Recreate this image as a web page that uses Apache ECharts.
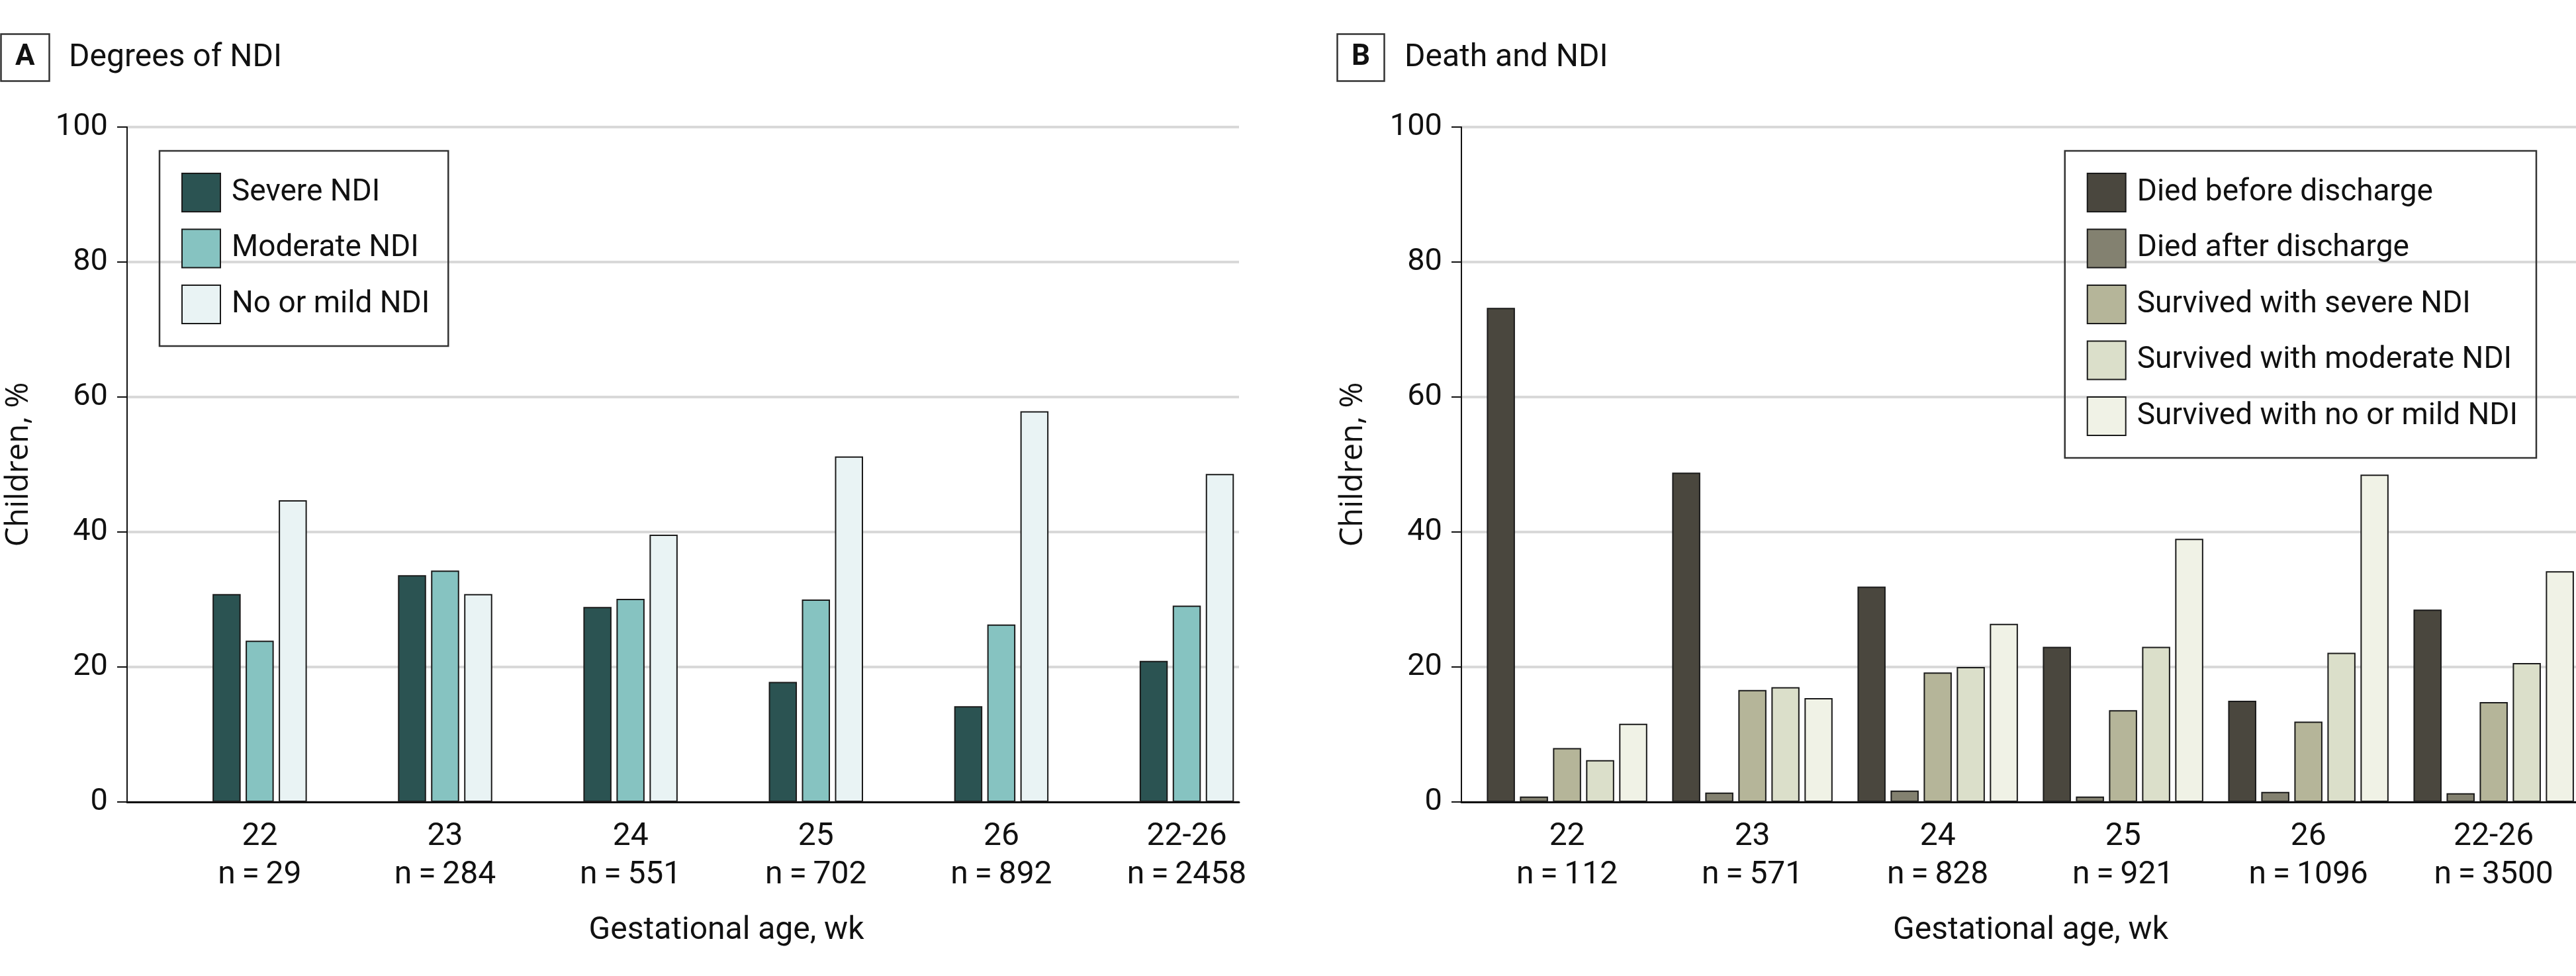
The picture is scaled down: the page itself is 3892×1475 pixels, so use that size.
<!DOCTYPE html>
<html>
<head>
<meta charset="utf-8">
<script src="https://cdn.jsdelivr.net/npm/echarts@6/dist/echarts.min.js"></script>
<style>
html, body { margin: 0; padding: 0; background: #fff; }
#chart { width: 3892px; height: 1475px; }
</style>
</head>
<body>
<div id="chart"></div>
<script>
// categories and sample sizes
var weeks = ['22', '23', '24', '25', '26', '22-26'];
var nA = ['29', '284', '551', '702', '892', '2458'];
var nB = ['112', '571', '828', '921', '1096', '3500'];

// panel A, % of children
var severeA = [30.8, 33.6, 28.9, 17.8, 14.2, 20.9];
var moderateA = [23.9, 34.3, 30.1, 30.0, 26.3, 29.1];
var mildA = [44.7, 30.8, 39.6, 51.2, 57.9, 48.6];

// panel B, % of children
var diedBefore = [73.2, 48.8, 31.9, 23.0, 15.0, 28.5];
var diedAfter = [0.8, 1.4, 1.7, 0.8, 1.5, 1.3];
var survSevere = [8.0, 16.6, 19.2, 13.6, 11.9, 14.8];
var survModerate = [6.2, 17.0, 20.0, 23.0, 22.1, 20.6];
var survMild = [11.6, 15.4, 26.4, 39.0, 48.5, 34.2];

var yTicks = [0, 20, 40, 60, 80, 100];

var chart = echarts.init(document.getElementById('chart'));

var font = 'Roboto';
var ink = '#111';

function pairs(arr) {
	return arr.map(function(v, i) { return [i, v]; });
}

function xLabel(ns) {
	return function(v) {
		var i = Math.round(v);
		if (Math.abs(v - i) > 1e-6 || i < 0 || i >= weeks.length) return '';
		return weeks[i] + '\n' + 'n\u2009=\u2009' + ns[i];
	};
}

function xAxisFor(idx, min, max, ns, shift) {
	return {
		type: 'value',
		gridIndex: idx,
		min: min,
		max: max,
		splitNumber: 6,
		splitLine: { show: false },
		axisTick: { show: false },
		axisLine: { show: true, onZero: false, lineStyle: { color: ink, width: 3 } },
		axisLabel: {
			formatter: xLabel(ns),
			fontFamily: font, fontSize: 48, lineHeight: 58,
			color: ink, margin: 24,
			showMinLabel: false, showMaxLabel: false
		},
		name: 'Gestational age, wk',
		nameLocation: 'middle',
		nameGap: 167,
		nameTextStyle: {
			fontFamily: font, fontSize: 48, lineHeight: 56, color: ink,
			padding: [0, 0, 0, shift]
		}
	};
}

function yAxisFor(idx) {
	return {
		type: 'value',
		gridIndex: idx,
		min: 0,
		max: 100,
		interval: 20,
		axisLine: { show: true, onZero: false, lineStyle: { color: ink, width: 2 } },
		axisTick: { show: true, length: 15, lineStyle: { color: ink, width: 2 } },
		splitLine: { show: true, lineStyle: { color: '#d9d9d9', width: 4 } },
		axisLabel: {
			fontFamily: font, fontSize: 47, color: ink, margin: 29,
			formatter: function(v) { return yTicks.indexOf(v) >= 0 ? String(v) : ''; }
		},
		name: 'Children, %',
		nameLocation: 'middle',
		nameGap: 135,
		nameTextStyle: { fontFamily: '"Open Sans"', fontSize: 47, lineHeight: 56, color: ink }
	};
}

function bar(name, data, color, axis) {
	return {
		name: name,
		type: 'bar',
		xAxisIndex: axis,
		yAxisIndex: axis,
		data: pairs(data),
		barWidth: 42.5,
		barGap: '17.6%',
		itemStyle: { color: color, borderColor: '#1a1a1a', borderWidth: 2 }
	};
}

var legendBase = {
	orient: 'vertical',
	top: 228,
	icon: 'rect',
	itemWidth: 58,
	itemHeight: 58,
	itemGap: 24.5,
	padding: [33, 28, 33, 33],
	borderColor: '#333',
	borderWidth: 2.5,
	selectedMode: false,
	textStyle: { fontFamily: font, fontSize: 46, color: ink, padding: [0, 0, 0, 12] }
};

var option = {
	backgroundColor: '#fff',
	animation: false,
	title: [
		{ text: 'A', left: 1, top: 51, padding: [12, 22, 12, 22], borderColor: '#333', borderWidth: 2.5,
		  textStyle: { fontFamily: font, fontSize: 44, fontWeight: 'bold', lineHeight: 48, color: ink } },
		{ text: 'Degrees of NDI', left: 104, top: 60, padding: 0,
		  textStyle: { fontFamily: font, fontSize: 48, fontWeight: 'normal', lineHeight: 56, color: ink } },
		{ text: 'B', left: 2020, top: 51, padding: [12, 22, 12, 22], borderColor: '#333', borderWidth: 2.5,
		  textStyle: { fontFamily: font, fontSize: 44, fontWeight: 'bold', lineHeight: 48, color: ink } },
		{ text: 'Death and NDI', left: 2122, top: 60, padding: 0,
		  textStyle: { fontFamily: font, fontSize: 48, fontWeight: 'normal', lineHeight: 56, color: ink } }
	],
	legend: [
		Object.assign({}, legendBase, { left: 241, data: ['Severe NDI', 'Moderate NDI', 'No or mild NDI'] }),
		Object.assign({}, legendBase, { right: 60, data: ['Died before discharge', 'Died after discharge',
			'Survived with severe NDI', 'Survived with moderate NDI', 'Survived with no or mild NDI'] })
	],
	grid: [
		{ left: 191, top: 192, width: 1681, height: 1020 },
		{ left: 2208, top: 192, width: 1684, height: 1020 }
	],
	xAxis: [
		xAxisFor(0, -0.7153, 5.2819, nA, 131),
		xAxisFor(1, -0.570, 5.444, nB, 36)
	],
	yAxis: [yAxisFor(0), yAxisFor(1)],
	series: [
		bar('Severe NDI', severeA, '#2b5352', 0),
		bar('Moderate NDI', moderateA, '#86c3c1', 0),
		bar('No or mild NDI', mildA, '#e9f3f4', 0),
		bar('Died before discharge', diedBefore, '#4a473e', 1),
		bar('Died after discharge', diedAfter, '#838170', 1),
		bar('Survived with severe NDI', survSevere, '#b5b599', 1),
		bar('Survived with moderate NDI', survModerate, '#dbdfca', 1),
		bar('Survived with no or mild NDI', survMild, '#f0f2e6', 1)
	]
};

chart.setOption(option);
</script>
</body>
</html>
